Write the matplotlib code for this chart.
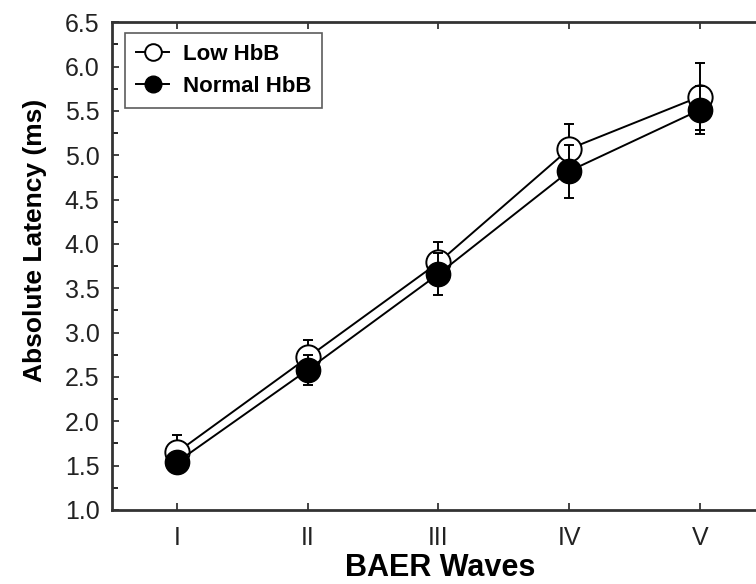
import matplotlib.pyplot as plt
from matplotlib.lines import Line2D
from matplotlib.ticker import MultipleLocator

plt.rcParams['font.family'] = ['Liberation Sans', 'DejaVu Sans']

# data
waves = ['I', 'II', 'III', 'IV', 'V']
low_mean = [1.65, 2.72, 3.79, 5.07, 5.66]
low_err = [0.19, 0.2, 0.23, 0.28, 0.38]
normal_mean = [1.54, 2.58, 3.66, 4.82, 5.51]
normal_err = [0.1, 0.17, 0.24, 0.3, 0.27]

x = list(range(1, len(waves) + 1))

fig = plt.figure(figsize=(7.56, 5.84), dpi=100)
ax = fig.add_axes([0.148, 0.127, 0.864, 0.835])

ax.errorbar(x, low_mean, yerr=low_err, color='black', lw=1.4, elinewidth=1.4,
            capsize=3.5, capthick=1.4, marker='o', markersize=17.5,
            markerfacecolor='white', markeredgecolor='black', markeredgewidth=1.4,
            zorder=2)
ax.errorbar(x, normal_mean, yerr=normal_err, color='black', lw=1.4, elinewidth=1.4,
            capsize=3.5, capthick=1.4, marker='o', markersize=17.5,
            markerfacecolor='black', markeredgecolor='black',
            zorder=3)

ax.set_xlim(0.5, 5.5)
ax.set_ylim(1.0, 6.5)
ax.set_xticks(x)
ax.set_xticklabels(waves)
ax.yaxis.set_major_locator(MultipleLocator(0.5))
ax.yaxis.set_minor_locator(MultipleLocator(0.25))
ax.yaxis.set_major_formatter(plt.FormatStrFormatter('%.1f'))
ax.tick_params(axis='both', which='major', direction='in', length=5, width=1.2,
               labelsize=18, colors='#222222', top=True, right=False)
ax.tick_params(axis='x', pad=12)
ax.tick_params(axis='y', pad=9)
ax.tick_params(axis='y', which='minor', direction='in', length=4, width=1.2)

for s in ['left', 'bottom', 'top', 'right']:
    ax.spines[s].set_linewidth(2)
    ax.spines[s].set_color('#333333')

ax.set_xlabel('BAER Waves', fontsize=22, fontweight='bold')
ax.set_ylabel('Absolute Latency (ms)', fontsize=19, fontweight='bold')
ax.xaxis.set_label_coords(0.503, -0.088)
ax.yaxis.set_label_coords(-0.1, 0.553)

handles = [
    Line2D([], [], color='black', lw=1.4, marker='o', markersize=12,
           markerfacecolor='white', markeredgecolor='black', markeredgewidth=1.4),
    Line2D([], [], color='black', lw=1.4, marker='o', markersize=12,
           markerfacecolor='black', markeredgecolor='black'),
]
leg = ax.legend(handles, ['Low HbB', 'Normal HbB'], loc='upper left',
                bbox_to_anchor=(0.02, 0.978),
                prop={'weight': 'bold', 'size': 16}, frameon=True, fancybox=False,
                edgecolor='#333333', handlelength=1.5, handletextpad=0.6,
                borderpad=0.5, labelspacing=0.5, borderaxespad=0)
leg.get_frame().set_linewidth(1.2)

fig.savefig('out.png', dpi=100)
